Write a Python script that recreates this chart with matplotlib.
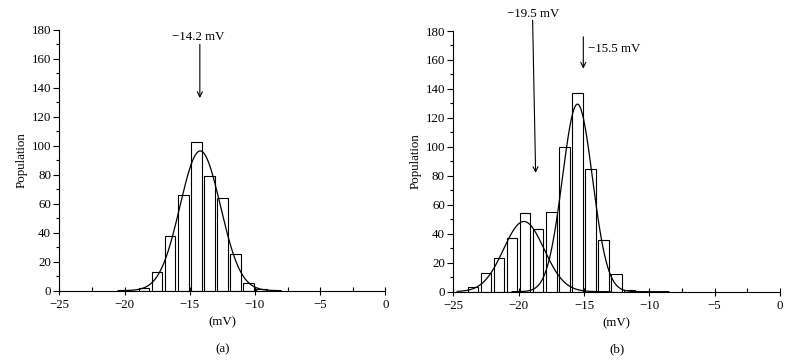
import numpy as np
import matplotlib
matplotlib.use("Agg")
import matplotlib.pyplot as plt
from matplotlib.ticker import MultipleLocator

plt.rcParams['font.family'] = ['Liberation Serif', 'DejaVu Serif']
plt.rcParams['font.size'] = 9.3

# Panel (a) histogram
a_centers = [-18.5, -17.5, -16.5, -15.5, -14.5, -13.5, -12.5, -11.5, -10.5, -9.5]
a_counts = [2, 13, 38, 66, 103, 79, 64, 25, 5, 1]
a_fit_mean, a_fit_sigma, a_fit_amp = -14.2, 1.55, 96.5

# Panel (b) histogram
b_centers = [-23.5, -22.5, -21.5, -20.5, -19.5, -18.5, -17.5, -16.5, -15.5,
             -14.5, -13.5, -12.5, -11.5]
b_counts = [3, 13, 23, 37, 54, 43, 55, 100, 137, 85, 36, 12, 1]
b_fit1_mean, b_fit1_sigma, b_fit1_amp = -19.6, 1.55, 48.5
b_fit2_mean, b_fit2_sigma, b_fit2_amp = -15.5, 1.15, 129.5

bar_width = 0.8


def gauss(x, m, s, a):
    return a * np.exp(-0.5 * ((x - m) / s) ** 2)


fig = plt.figure(figsize=(7.9, 3.63), dpi=100)
axA = fig.add_axes([0.0753, 0.1992, 0.4124, 0.7182])
axB = fig.add_axes([0.5738, 0.1964, 0.4135, 0.7182])


def style(ax):
    ax.set_xlim(-25, 0)
    ax.set_ylim(0, 180)
    ax.spines['top'].set_visible(False)
    ax.spines['right'].set_visible(False)
    for s in ('left', 'bottom'):
        ax.spines[s].set_linewidth(0.8)
    ax.xaxis.set_major_locator(MultipleLocator(5))
    ax.xaxis.set_minor_locator(MultipleLocator(2.5))
    ax.yaxis.set_major_locator(MultipleLocator(20))
    ax.yaxis.set_minor_locator(MultipleLocator(10))
    ax.tick_params(axis='x', which='major', direction='inout', length=6, width=0.8, pad=3)
    ax.tick_params(axis='x', which='minor', direction='in', length=3, width=0.8)
    ax.tick_params(axis='y', which='major', direction='out', length=4, width=0.8, pad=2)
    ax.tick_params(axis='y', which='minor', direction='out', length=2, width=0.8)
    ax.set_xlabel('(mV)', labelpad=4)
    ax.set_ylabel('Population', labelpad=3)


for ax in (axA, axB):
    style(ax)

axA.bar(a_centers, a_counts, width=bar_width, facecolor='white',
        edgecolor='black', linewidth=0.8, zorder=2)
xa = np.linspace(-20.5, -8.0, 400)
axA.plot(xa, gauss(xa, a_fit_mean, a_fit_sigma, a_fit_amp), color='black', lw=0.9, zorder=3)

axB.bar(b_centers, b_counts, width=bar_width, facecolor='white',
        edgecolor='black', linewidth=0.8, zorder=2)
xb1 = np.linspace(-24.7, -13.0, 400)
xb2 = np.linspace(-20.5, -8.5, 400)
axB.plot(xb1, gauss(xb1, b_fit1_mean, b_fit1_sigma, b_fit1_amp), color='black', lw=0.9, zorder=3)
axB.plot(xb2, gauss(xb2, b_fit2_mean, b_fit2_sigma, b_fit2_amp), color='black', lw=0.9, zorder=3)

arrow = dict(arrowstyle='->', color='black', lw=0.8, shrinkA=0, shrinkB=0, mutation_scale=9)

# Panel (a) annotation
axA.annotate('', xy=(-14.23, 133), xytext=(-14.23, 170), arrowprops=arrow, annotation_clip=False)
axA.text(-14.35, 175.5, '−14.2 mV', ha='center', va='center')

# Panel (b) annotations
axB.annotate('', xy=(-18.7, 82), xytext=(-18.93, 187.5), arrowprops=arrow, annotation_clip=False)
axB.text(-18.9, 192, '−19.5 mV', ha='center', va='center', clip_on=False)
axB.annotate('', xy=(-15.05, 154), xytext=(-15.05, 176), arrowprops=arrow, annotation_clip=False)
axB.text(-14.7, 167.5, '−15.5 mV', ha='left', va='center')

fig.text(222.5 / 790, 1 - 349 / 363, '(a)', ha='center', va='center')
fig.text(617 / 790, 1 - 349 / 363, '(b)', ha='center', va='center')

fig.savefig('out.png', dpi=100)
